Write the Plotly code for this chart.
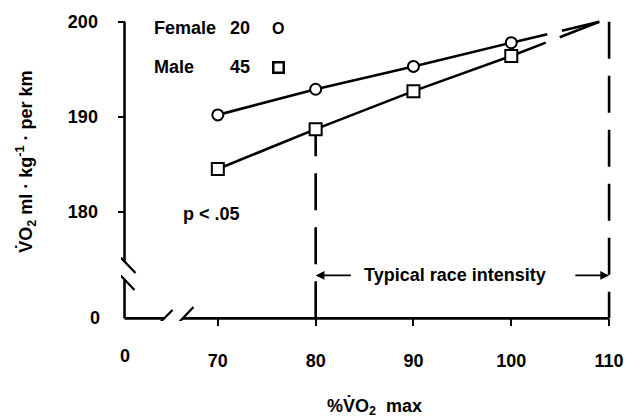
import plotly.graph_objects as go

# %VO2max at which running economy was measured
intensity = [70, 80, 90, 100]
female_vo2 = [190.2, 192.9, 195.3, 197.8]
male_vo2 = [184.5, 188.7, 192.7, 196.4]
n_female, n_male = 20, 45

# point toward which both trends are extended beyond 100 %
trend_end_x = 109
trend_end_y = 200

x_tick_vals = [70, 80, 90, 100, 110]
x_tick_text = ["70", "80", "90", "100", "110"]
y_tick_vals = [180, 190, 200]
y_tick_text = ["180", "190", "200"]
race_start, race_end = 80, 110

# broken axes: the "0" origin is drawn just left/below the visible ranges
X_ORIGIN = 60.46
Y_ORIGIN = 168.78
X_RANGE = [60.1, 110.4]
Y_RANGE = [168.5, 200.4]

PX_X = 9.79   # pixels per x unit
PX_Y = 9.565  # pixels per y unit
LEFT = 120.5
TOP = 15.85
W, H = 640, 419
plot_w = (X_RANGE[1] - X_RANGE[0]) * PX_X
plot_h = (Y_RANGE[1] - Y_RANGE[0]) * PX_Y

FONT = "Liberation Sans, Arial, Helvetica, sans-serif"
BLACK = "#000000"
FS = 18

fig = go.Figure()

# extrapolated trends (with a short break) toward the common end point
for vals in (female_vo2, male_vo2):
    fig.add_trace(go.Scatter(
        x=[intensity[-1], trend_end_x], y=[vals[-1], trend_end_y],
        mode="lines", line=dict(color=BLACK, width=2.6, dash="37px,15px,80px"),
        hoverinfo="skip", showlegend=False, cliponaxis=False))

fig.add_trace(go.Scatter(
    x=intensity, y=female_vo2, mode="lines+markers", name="Female",
    line=dict(color=BLACK, width=2.6),
    marker=dict(symbol="circle", size=11, color="white", line=dict(color=BLACK, width=2)),
    showlegend=False, cliponaxis=False))
fig.add_trace(go.Scatter(
    x=intensity, y=male_vo2, mode="lines+markers", name="Male",
    line=dict(color=BLACK, width=2.6),
    marker=dict(symbol="square", size=12, color="white", line=dict(color=BLACK, width=2)),
    showlegend=False, cliponaxis=False))

shapes = []
ax_line = dict(color=BLACK, width=2.6)

# y axis line, interrupted at the break
y_gap_top = Y_ORIGIN + 56.8 / PX_Y
y_gap_bot = Y_ORIGIN + 38.8 / PX_Y
shapes.append(dict(type="line", xref="x", yref="y", x0=X_ORIGIN, x1=X_ORIGIN,
                   y0=y_tick_vals[-1], y1=y_gap_top, line=ax_line, layer="below"))
shapes.append(dict(type="line", xref="x", yref="y", x0=X_ORIGIN, x1=X_ORIGIN,
                   y0=y_gap_bot, y1=Y_ORIGIN, line=ax_line, layer="below"))
# x axis line, interrupted at the break
x_gap_l = X_ORIGIN + 39.7 / PX_X
x_gap_r = X_ORIGIN + 58.2 / PX_X
shapes.append(dict(type="line", xref="x", yref="y", x0=X_ORIGIN, x1=x_gap_l,
                   y0=Y_ORIGIN, y1=Y_ORIGIN, line=ax_line, layer="below"))
shapes.append(dict(type="line", xref="x", yref="y", x0=x_gap_r, x1=x_tick_vals[-1],
                   y0=Y_ORIGIN, y1=Y_ORIGIN, line=ax_line, layer="below"))

# break marks (pixel offsets from the origin corner)
brk = dict(color=BLACK, width=2.2)
for (a0, b0, a1, b1) in [(-9, 66.3, 11, 45.3), (-10, 49.3, 10, 28.3)]:
    shapes.append(dict(type="line", xref="x", yref="y", xsizemode="pixel", ysizemode="pixel",
                       xanchor=X_ORIGIN, yanchor=Y_ORIGIN, x0=a0, y0=b0, x1=a1, y1=b1, line=brk))
for (a0, b0, a1, b1) in [(29, -10.7, 48, 8.3), (48, -10.7, 69, 11.3)]:
    shapes.append(dict(type="line", xref="x", yref="y", xsizemode="pixel", ysizemode="pixel",
                       xanchor=X_ORIGIN, yanchor=Y_ORIGIN, x0=a0, y0=b0, x1=a1, y1=b1, line=brk))

# dashed boundaries of the race-intensity zone
dash_line = dict(color=BLACK, width=2.6, dash="37px,17px")
shapes.append(dict(type="line", xref="x", yref="y", x0=race_start, x1=race_start,
                   y0=Y_ORIGIN, y1=male_vo2[intensity.index(race_start)], line=dash_line,
                   layer="below"))
shapes.append(dict(type="line", xref="x", yref="y", x0=race_end, x1=race_end,
                   y0=y_tick_vals[-1], y1=Y_ORIGIN, line=dash_line, layer="below"))

font = dict(family=FONT, size=FS, color=BLACK, weight="bold")
annotations = []

# zone arrows and label
arrow_y = 173.3
annotations.append(dict(x=race_start, y=arrow_y, ax=83.75, ay=arrow_y, xref="x", yref="y",
                        axref="x", ayref="y", text="", showarrow=True, arrowhead=2,
                        arrowsize=1.1, arrowwidth=1.6, arrowcolor=BLACK, standoff=0))
annotations.append(dict(x=race_end, y=arrow_y, ax=106.4, ay=arrow_y, xref="x", yref="y",
                        axref="x", ayref="y", text="", showarrow=True, arrowhead=2,
                        arrowsize=1.1, arrowwidth=1.6, arrowcolor=BLACK, standoff=0))
annotations.append(dict(x=94.2, y=arrow_y, xref="x", yref="y", text="Typical race intensity",
                        showarrow=False, font=font, xanchor="center", yanchor="middle"))

annotations.append(dict(x=66.2, y=179.8, xref="x", yref="y", text="p < .05",
                        showarrow=False, font=font, xanchor="left", yanchor="middle"))

# key: label, group size and symbol
key_rows = [("Female", n_female, 199.34), ("Male", n_male, 195.2)]
for label, n, yy in key_rows:
    annotations.append(dict(x=63.3, y=yy, xref="x", yref="y", text=label, showarrow=False,
                            font=font, xanchor="left", yanchor="middle"))
    annotations.append(dict(x=71.05, y=yy, xref="x", yref="y", text=str(n), showarrow=False,
                            font=font, xanchor="left", yanchor="middle"))
annotations.append(dict(x=76.2, y=key_rows[0][2], xref="x", yref="y", text="O", showarrow=False,
                        font=dict(family=FONT, size=16, color=BLACK, weight="bold"),
                        xanchor="center", yanchor="middle"))
annotations.append(dict(x=76.2, y=key_rows[1][2], xref="x", yref="y", text="\u00a0",
                        showarrow=False, width=8, height=8, borderwidth=2.5, borderpad=0,
                        bordercolor=BLACK, font=dict(family=FONT, size=6, color=BLACK),
                        xanchor="center", yanchor="middle"))

# "0" labels at the broken origin
annotations.append(dict(x=X_ORIGIN, y=Y_ORIGIN, xref="x", yref="y", text="0", showarrow=False,
                        font=font, xanchor="center", yanchor="middle", yshift=-38))
annotations.append(dict(x=X_ORIGIN, y=Y_ORIGIN, xref="x", yref="y", text="0", showarrow=False,
                        font=font, xanchor="right", yanchor="middle", xshift=-23))

# axis titles
annotations.append(dict(x=(25 - LEFT) / plot_w, y=(TOP + plot_h - 161) / plot_h,
                        xref="paper", yref="paper", textangle=-90, showarrow=False,
                        text="V\u0307O<sub>2</sub> ml · kg<sup>-1</sup> · per km",
                        font=font, xanchor="center", yanchor="middle"))
annotations.append(dict(x=(374 - LEFT) / plot_w, y=(TOP + plot_h - 407) / plot_h,
                        xref="paper", yref="paper", showarrow=False,
                        text="%V\u0307O<sub>2</sub>\u00a0\u00a0max",
                        font=font, xanchor="center", yanchor="middle"))

x_pos = (X_ORIGIN - X_RANGE[0]) / (X_RANGE[1] - X_RANGE[0])
y_pos = (Y_ORIGIN - Y_RANGE[0]) / (Y_RANGE[1] - Y_RANGE[0])

fig.update_layout(
    width=W, height=H,
    margin=dict(l=LEFT, r=W - LEFT - plot_w, t=TOP, b=H - TOP - plot_h, pad=0),
    paper_bgcolor="white", plot_bgcolor="white",
    shapes=shapes, annotations=annotations,
    xaxis=dict(range=X_RANGE, tickvals=x_tick_vals, ticktext=x_tick_text,
               ticks="outside", ticklen=7, tickwidth=2.4, tickcolor=BLACK,
               showline=False, showgrid=False, zeroline=False,
               anchor="free", position=y_pos, tickfont=font, ticklabelstandoff=19),
    yaxis=dict(range=Y_RANGE, tickvals=y_tick_vals, ticktext=y_tick_text,
               ticks="outside", ticklen=7, tickwidth=2.4, tickcolor=BLACK,
               showline=False, showgrid=False, zeroline=False,
               anchor="free", position=x_pos, tickfont=font, ticklabelstandoff=16),
    showlegend=False,
)

fig.write_html("out.html")
